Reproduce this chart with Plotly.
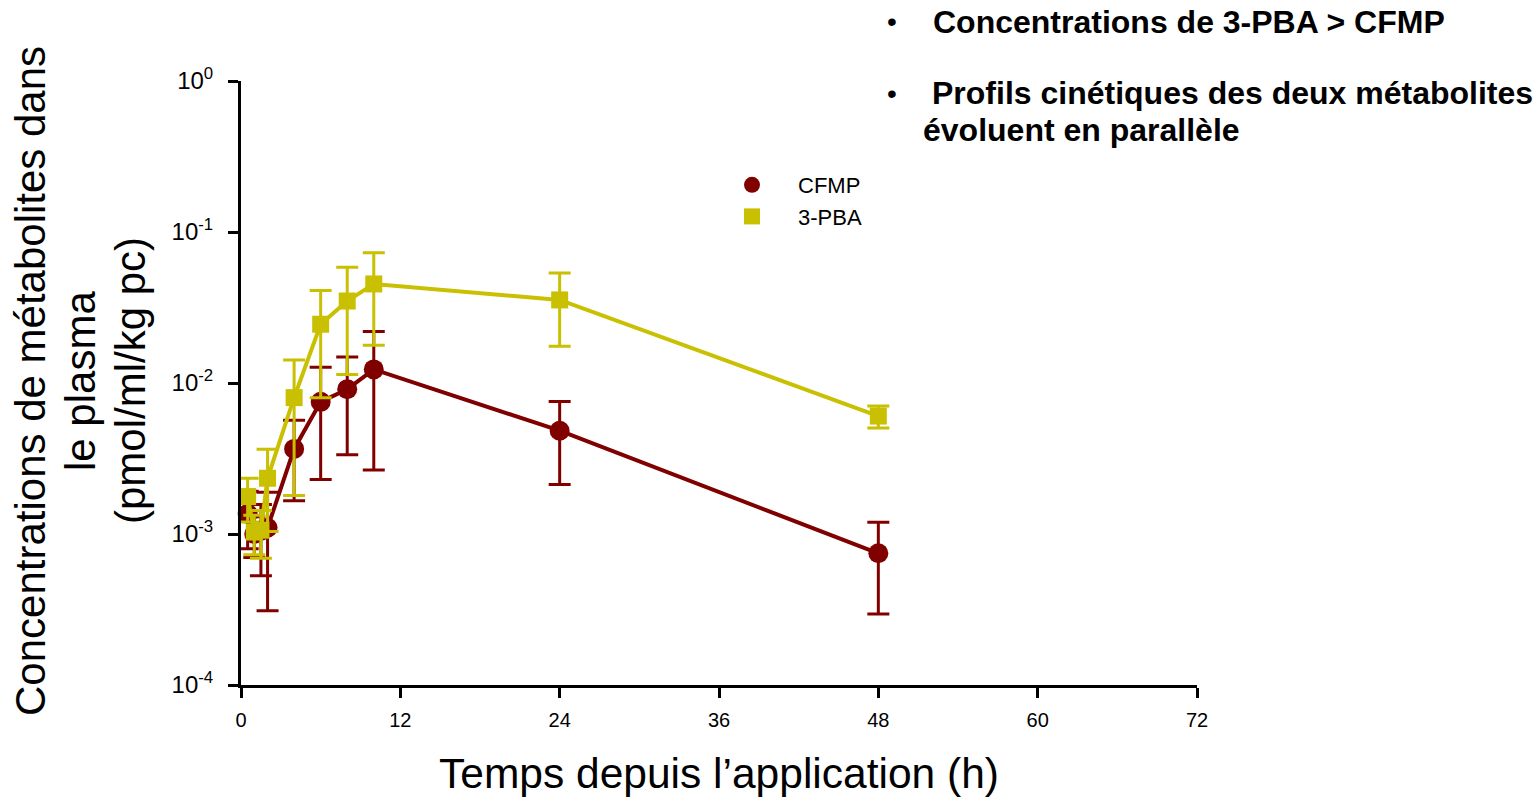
import plotly.graph_objects as go

# Data (time in hours, concentrations in pmol/ml/kg pc)
time_h = [0.5, 1, 1.5, 2, 4, 6, 8, 10, 24, 48]
cfmp_mean = [1.36e-3, 1.0e-3, 1.05e-3, 1.1e-3, 3.66e-3, 7.5e-3, 9.1e-3, 1.23e-2, 4.83e-3, 7.45e-4]
cfmp_sd = [5.6e-4, 3.0e-4, 5.2e-4, 7.9e-4, 2.0e-3, 5.2e-3, 5.75e-3, 9.65e-3, 2.7e-3, 4.5e-4]
pba_mean = [1.77e-3, 1.03e-3, 1.06e-3, 2.34e-3, 8.0e-3, 2.45e-2, 3.49e-2, 4.53e-2, 3.55e-2, 6.04e-3]
pba_sd = [5.7e-4, 3.0e-4, 3.7e-4, 1.3e-3, 6.2e-3, 1.65e-2, 2.35e-2, 2.75e-2, 1.8e-2, 1.0e-3]

x_ticks = [0, 12, 24, 36, 48, 60, 72]
y_tickvals = [1e-4, 1e-3, 1e-2, 1e-1, 1]
y_ticktext = ["10<sup>-4</sup>", "10<sup>-3</sup>", "10<sup>-2</sup>", "10<sup>-1</sup>", "10<sup>0</sup>"]

y_title_lines = ["Concentrations de métabolites dans", "le plasma", "(pmol/ml/kg pc)"]
x_title = "Temps depuis l’application (h)"

RED = "#800000"
YEL = "#C8C000"
FONT = "Liberation Sans, Arial, sans-serif"

fig = go.Figure()
fig.add_trace(go.Scatter(
    x=time_h, y=cfmp_mean, name="CFMP", mode="lines+markers", showlegend=False,
    line=dict(color=RED, width=4),
    marker=dict(symbol="circle", size=20, color=RED),
    error_y=dict(type="data", array=cfmp_sd, color=RED, thickness=3, width=11),
    cliponaxis=False,
))
fig.add_trace(go.Scatter(
    x=time_h, y=pba_mean, name="3-PBA", mode="lines+markers", showlegend=False,
    line=dict(color=YEL, width=4),
    marker=dict(symbol="square", size=17, color=YEL),
    error_y=dict(type="data", array=pba_sd, color=YEL, thickness=3, width=11),
    cliponaxis=False,
))
# legend-only entries (markers only, as in the reference)
fig.add_trace(go.Scatter(x=[None], y=[None], name="CFMP", mode="markers",
                         marker=dict(symbol="circle", size=20, color=RED)))
fig.add_trace(go.Scatter(x=[None], y=[None], name="3-PBA", mode="markers",
                         marker=dict(symbol="square", size=16, color=YEL)))

W, H = 1537, 797
L, R, T, B = 241, 1197, 81, 685

def px(x):
    return (x - L) / (R - L)

def py(y):
    return (B - y) / (B - T)

BFS = 32
annotations = [
    dict(text="•", x=px(892), y=py(22), xref="paper", yref="paper", showarrow=False,
         xanchor="center", yanchor="middle", font=dict(size=28, color="black", family=FONT)),
    dict(text="<b>Concentrations de 3-PBA > CFMP</b>", x=px(931), y=py(22), xref="paper", yref="paper",
         showarrow=False, xanchor="left", yanchor="middle", font=dict(size=BFS, color="black", family=FONT)),
    dict(text="•", x=px(892), y=py(93), xref="paper", yref="paper", showarrow=False,
         xanchor="center", yanchor="middle", font=dict(size=28, color="black", family=FONT)),
    dict(text="<b>Profils cinétiques des deux métabolites</b>", x=px(930), y=py(93), xref="paper", yref="paper",
         showarrow=False, xanchor="left", yanchor="middle", font=dict(size=BFS, color="black", family=FONT)),
    dict(text="<b>évoluent en parallèle</b>", x=px(921), y=py(130), xref="paper", yref="paper",
         showarrow=False, xanchor="left", yanchor="middle", font=dict(size=BFS, color="black", family=FONT)),
]
for xc, line in zip([30, 80, 130], y_title_lines):
    annotations.append(dict(text=line, x=px(xc), y=py(381), xref="paper", yref="paper",
                            showarrow=False, textangle=-90, xanchor="center", yanchor="middle",
                            font=dict(size=42, color="black", family=FONT)))

fig.update_layout(
    width=W, height=H,
    margin=dict(l=L, r=W - R, t=T, b=H - B, pad=0, autoexpand=False),
    paper_bgcolor="white", plot_bgcolor="white",
    font=dict(family=FONT, color="black"),
    showlegend=True,
    legend=dict(x=px(706), y=py(164), xanchor="left", yanchor="top",
                font=dict(size=22, family=FONT), bgcolor="rgba(0,0,0,0)",
                itemwidth=82, tracegroupgap=0),
    annotations=annotations,
    xaxis=dict(
        range=[0, 72], tickvals=x_ticks, ticktext=[str(v) for v in x_ticks],
        showline=True, linecolor="black", linewidth=3, mirror=False,
        ticks="outside", ticklen=10, tickwidth=3, tickcolor="black",
        showgrid=False, zeroline=False, automargin=False,
        tickfont=dict(size=20, family=FONT), ticklabelstandoff=5,
        title=dict(text=x_title, font=dict(size=42.5, family=FONT), standoff=30),
    ),
    yaxis=dict(
        type="log", range=[-4, 0], tickvals=y_tickvals, ticktext=y_ticktext,
        showline=True, linecolor="black", linewidth=3,
        ticks="outside", ticklen=10, tickwidth=3, tickcolor="black",
        showgrid=False, zeroline=False, automargin=False,
        tickfont=dict(size=24, family=FONT), ticklabelstandoff=10,
    ),
)

fig.write_html("out.html")
